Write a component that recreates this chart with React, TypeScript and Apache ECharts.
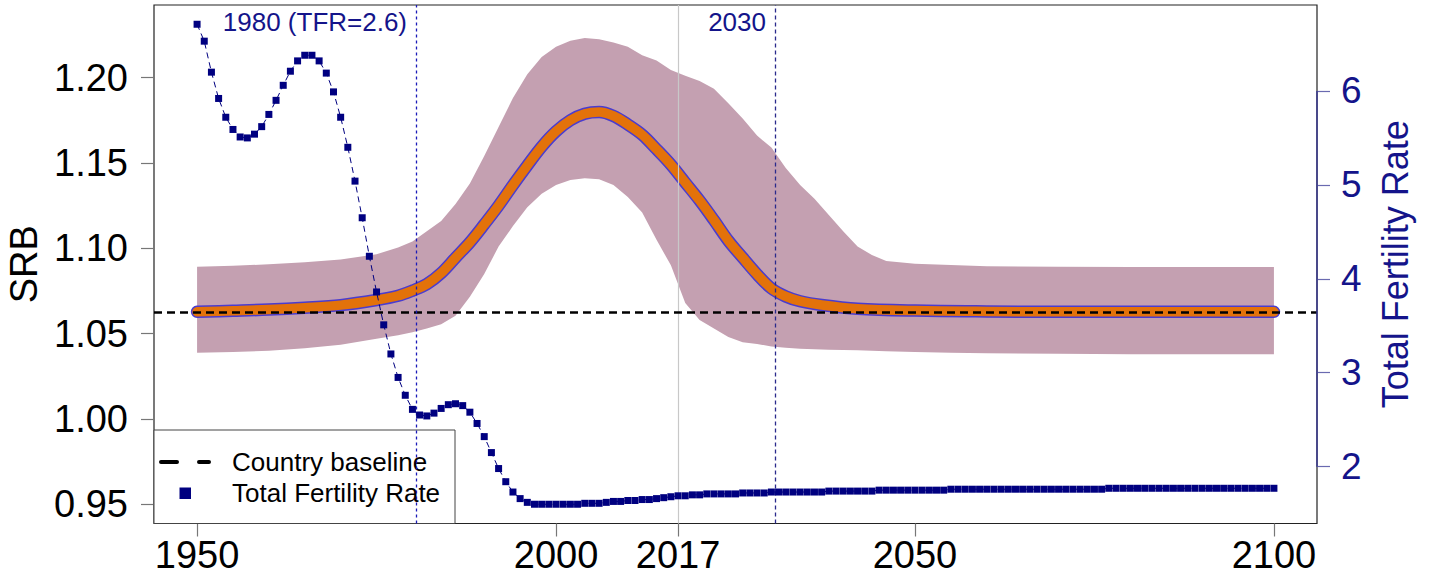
import React, { useEffect, useRef } from "react";
import * as echarts from "echarts";

// ---- Data ----
const tfrStartYear = 1950;
const tfrValues = [
  6.71, 6.53, 6.2, 5.92, 5.72, 5.59, 5.51, 5.5, 5.54, 5.62,
  5.75, 5.9, 6.06, 6.21, 6.32, 6.38, 6.38, 6.32, 6.19, 5.99,
  5.72, 5.4, 5.04, 4.65, 4.24, 3.86, 3.51, 3.2, 2.95, 2.76,
  2.61, 2.55, 2.54, 2.57, 2.62, 2.66, 2.67, 2.65, 2.58, 2.46,
  2.32, 2.15, 1.98, 1.84, 1.73, 1.66, 1.62, 1.6, 1.6, 1.6,
  1.6, 1.6, 1.6, 1.6, 1.61, 1.61, 1.61, 1.62, 1.63, 1.63,
  1.64, 1.64, 1.65, 1.65, 1.66, 1.67, 1.68, 1.69, 1.69, 1.7,
  1.7, 1.71, 1.71, 1.71, 1.71, 1.71, 1.72, 1.72, 1.72, 1.72,
  1.73, 1.73, 1.73, 1.73, 1.73, 1.73, 1.73, 1.73, 1.74, 1.74,
  1.74, 1.74, 1.74, 1.74, 1.74, 1.75, 1.75, 1.75, 1.75, 1.75,
  1.75, 1.75, 1.75, 1.75, 1.75, 1.76, 1.76, 1.76, 1.76, 1.76,
  1.76, 1.76, 1.76, 1.76, 1.76, 1.76, 1.76, 1.76, 1.76, 1.76,
  1.76, 1.76, 1.76, 1.76, 1.76, 1.76, 1.76, 1.77, 1.77, 1.77,
  1.77, 1.77, 1.77, 1.77, 1.77, 1.77, 1.77, 1.77, 1.77, 1.77,
  1.77, 1.77, 1.77, 1.77, 1.77, 1.77, 1.77, 1.77, 1.77, 1.77,
  1.77,
];
const tfrYears = tfrValues.map((_, i) => tfrStartYear + i);

const srbYears = [
  1950, 1955, 1960, 1965, 1970, 1975, 1978, 1980, 1982, 1984, 1986, 1988,
  1990, 1992, 1994, 1996, 1998, 2000, 2002, 2004, 2006, 2008, 2010, 2012,
  2014, 2016, 2018, 2020, 2022, 2024, 2026, 2028, 2030, 2032, 2034, 2037,
  2042, 2050, 2060, 2070, 2080, 2090, 2100,
];
const srbMedian = [
  1.0628, 1.0634, 1.0641, 1.0652, 1.0667, 1.0697, 1.0722, 1.0752, 1.079,
  1.0855, 1.0945, 1.1035, 1.114, 1.125, 1.137, 1.1485, 1.1595, 1.1685, 1.175,
  1.1788, 1.1798, 1.1775, 1.1725, 1.1665, 1.158, 1.149, 1.1385, 1.128, 1.1165,
  1.1045, 1.0945, 1.0848, 1.0765, 1.0718, 1.069, 1.0668, 1.0646, 1.0635,
  1.063, 1.0628, 1.0628, 1.0628, 1.0628,
];

const bandYears = [
  1950, 1955, 1960, 1965, 1970, 1975, 1978, 1980, 1982, 1984, 1986, 1988,
  1990, 1992, 1994, 1996, 1998, 2000, 2002, 2004, 2006, 2008, 2010, 2012,
  2014, 2016, 2018, 2020, 2022, 2024, 2026, 2028, 2030, 2032, 2034, 2036,
  2038, 2040, 2042, 2044, 2046, 2050, 2055, 2060, 2070, 2080, 2090, 2100,
];
const bandLower = [
  1.0388, 1.0392, 1.04, 1.0415, 1.0435, 1.047, 1.049, 1.0508, 1.053, 1.0555,
  1.0605, 1.0716, 1.085, 1.101, 1.113, 1.124, 1.132, 1.137, 1.14, 1.141,
  1.1405, 1.137, 1.13, 1.121, 1.105, 1.09, 1.068, 1.058, 1.053, 1.048, 1.045,
  1.044, 1.0425, 1.0418, 1.0412, 1.0408, 1.0405, 1.0404, 1.0403, 1.04, 1.0397,
  1.0392, 1.0388, 1.0385, 1.0382, 1.038, 1.038, 1.038,
];
const bandUpper = [
  1.0892, 1.0898, 1.0906, 1.0918, 1.0935, 1.0965, 1.1005, 1.104, 1.11, 1.116,
  1.126, 1.138, 1.154, 1.171, 1.188, 1.202, 1.212, 1.218, 1.2215, 1.2232,
  1.2225, 1.2205, 1.218, 1.213, 1.21, 1.2045, 1.201, 1.198, 1.1935, 1.185,
  1.176, 1.166, 1.159, 1.147, 1.137, 1.129, 1.1195, 1.11, 1.101, 1.096,
  1.0925, 1.091, 1.0902, 1.0895, 1.0892, 1.089, 1.089, 1.089,
];

const baselineSRB = 1.0628;
const tfrMarkYear = 1980.5;
const projMarkYear = 2030.5;
const currentYear = 2017;
const tfrMarkLabel = "1980 (TFR=2.6)";
const projMarkLabel = "2030";

const xTicks = [1950, 2000, 2017, 2050, 2100];
const srbTicks = [0.95, 1.0, 1.05, 1.1, 1.15, 1.2];
const tfrTicks = [2, 3, 4, 5, 6];

const legendLabels = ["Country baseline", "Total Fertility Rate"];

export default function App() {
  const ref = useRef<HTMLDivElement>(null);
  useEffect(() => {
    const chart = echarts.init(ref.current!, null, { renderer: "svg" });
    const font = "'Liberation Sans', Arial, Helvetica, sans-serif";
    const navy = "#000080";
    const textNavy = "#14148a";

    const option: any = {
      animation: false,
      backgroundColor: "#ffffff",
      textStyle: { fontFamily: font },
      grid: {
        left: 154,
        right: 113,
        top: 5,
        bottom: 57.5,
        show: true,
        borderColor: "#222",
        borderWidth: 1.2,
        containLabel: false,
        outerBoundsMode: "none",
      },
      xAxis: {
        type: "value",
        min: 1944,
        max: 2106,
        splitLine: { show: false },
        axisLine: { show: false },
        axisTick: {
          show: true,
          customValues: xTicks,
          length: 13,
          lineStyle: { color: "#777", width: 1.2 },
        },
        axisLabel: {
          customValues: xTicks,
          fontSize: 38,
          color: "#000",
          margin: 12,
          fontFamily: font,
          hideOverlap: false,
          formatter: (v: number) => String(v),
        },
      },
      yAxis: [
        {
          type: "value",
          min: 0.9388,
          max: 1.2425,
          name: "SRB",
          nameLocation: "middle",
          nameGap: 110,
          nameRotate: 90,
          nameTextStyle: { fontSize: 38, color: "#000", fontFamily: font },
          splitLine: { show: false },
          axisLine: { show: false },
          axisTick: {
            show: true,
            customValues: srbTicks,
            length: 13,
            lineStyle: { color: "#777", width: 1.2 },
          },
          axisLabel: {
            customValues: srbTicks,
            fontSize: 38,
            color: "#000",
            margin: 26,
            fontFamily: font,
            formatter: (v: number) => v.toFixed(2),
          },
        },
        {
          type: "value",
          position: "right",
          min: 1.395,
          max: 6.915,
          name: "Total Fertility Rate",
          nameLocation: "middle",
          nameGap: 60,
          nameRotate: 90,
          nameTextStyle: { fontSize: 36, color: textNavy, fontFamily: font },
          splitLine: { show: false },
          axisLine: { show: false },
          axisTick: {
            show: true,
            customValues: tfrTicks,
            length: 13,
            lineStyle: { color: "#6a6ab0", width: 1.2 },
          },
          axisLabel: {
            customValues: tfrTicks,
            fontSize: 37,
            color: textNavy,
            margin: 24,
            fontFamily: font,
            formatter: (v: number) => String(v),
          },
        },
      ],
      graphic: {
        elements: [
          {
            type: "rect",
            z: 1,
            shape: { x: 154, y: 430, width: 301, height: 93.5 },
            style: { fill: "#fff", stroke: "#444", lineWidth: 1 },
          },
          {
            type: "line",
            z: 1,
            shape: { x1: 161, y1: 462, x2: 209, y2: 462 },
            style: { stroke: "#000", lineWidth: 4, lineDash: [16, 22], lineCap: "round" },
          },
          {
            type: "rect",
            z: 1,
            shape: { x: 179.5, y: 487.5, width: 11.5, height: 11.5 },
            style: { fill: navy },
          },
          {
            type: "text",
            z: 1,
            x: 232,
            y: 462,
            style: {
              text: legendLabels[0],
              fontSize: 26,
              fontFamily: font,
              fill: "#000",
              verticalAlign: "middle",
              align: "left",
            },
          },
          {
            type: "text",
            z: 1,
            x: 232,
            y: 493,
            style: {
              text: legendLabels[1],
              fontSize: 26,
              fontFamily: font,
              fill: "#000",
              verticalAlign: "middle",
              align: "left",
            },
          },
        ],
      },
      series: [
        {
          type: "custom",
          name: "band",
          z: 1,
          silent: true,
          data: [[bandYears[0], bandLower[0]]],
          encode: { x: 0, y: 1 },
          renderItem: (_params: any, api: any) => {
            const pts: number[][] = [];
            for (let i = 0; i < bandYears.length; i++) pts.push(api.coord([bandYears[i], bandUpper[i]]));
            for (let i = bandYears.length - 1; i >= 0; i--) pts.push(api.coord([bandYears[i], bandLower[i]]));
            return { type: "polygon", shape: { points: pts }, style: { fill: "#c4a0b1" } };
          },
        },
        {
          type: "line",
          name: "current",
          z: 2,
          data: [[currentYear, baselineSRB]],
          showSymbol: false,
          lineStyle: { opacity: 0 },
          silent: true,
          markLine: {
            silent: true,
            precision: 4,
            symbol: ["none", "none"],
            label: { show: false },
            lineStyle: { color: "#c8c8c8", width: 1.2, type: "solid" },
            data: [{ xAxis: currentYear }],
          },
        },
        {
          type: "line",
          name: "medianOutline",
          z: 3,
          data: srbYears.map((y, i) => [y, srbMedian[i]]),
          showSymbol: false,
          smooth: 0.35,
          lineStyle: { color: "#4a3ccf", width: 12.5, cap: "round", join: "round" },
          silent: true,
        },
        {
          type: "line",
          name: "median",
          z: 4,
          data: srbYears.map((y, i) => [y, srbMedian[i]]),
          showSymbol: false,
          smooth: 0.35,
          lineStyle: { color: "#e3720a", width: 9.5, cap: "round", join: "round" },
          silent: true,
          markPoint: {
            silent: true,
            symbol: "circle",
            symbolSize: 0,
            data: [
              {
                coord: [tfrMarkYear, 1.2325],
                label: {
                  show: true,
                  position: "left",
                  distance: 9,
                  formatter: tfrMarkLabel,
                  fontSize: 26,
                  color: textNavy,
                  fontFamily: font,
                },
              },
              {
                coord: [projMarkYear, 1.2325],
                label: {
                  show: true,
                  position: "left",
                  distance: 9,
                  formatter: projMarkLabel,
                  fontSize: 26,
                  color: textNavy,
                  fontFamily: font,
                },
              },
            ],
          },
        },
        {
          type: "line",
          name: "baseline",
          z: 5,
          data: [[1950, baselineSRB]],
          showSymbol: false,
          lineStyle: { opacity: 0 },
          silent: true,
          markLine: {
            silent: true,
            precision: 4,
            symbol: ["none", "none"],
            label: { show: false },
            lineStyle: { color: "#000", width: 2.5, type: [8, 5] },
            data: [{ yAxis: baselineSRB }],
          },
        },
        {
          type: "line",
          name: "TFR",
          yAxisIndex: 1,
          z: 6,
          clip: false,
          data: tfrYears.map((y, i) => [y, tfrValues[i]]),
          symbol: "rect",
          symbolSize: 7,
          showAllSymbol: true,
          itemStyle: { color: navy },
          lineStyle: { color: navy, width: 1, type: [6, 4] },
          silent: true,
          markLine: {
            silent: true,
            precision: 4,
            symbol: ["none", "none"],
            label: { show: false },
            lineStyle: { color: "#3a3a90", width: 1.5, type: "solid" },
            data: [[{ coord: [2106, tfrTicks[0]] }, { coord: [2106, tfrTicks[tfrTicks.length - 1]] }]],
          },
        },
        {
          type: "line",
          name: "marks",
          z: 7,
          data: [[tfrMarkYear, baselineSRB]],
          showSymbol: false,
          lineStyle: { opacity: 0 },
          silent: true,
          markLine: {
            silent: true,
            precision: 4,
            symbol: ["none", "none"],
            label: { show: false },
            data: [
              { xAxis: tfrMarkYear, lineStyle: { color: "#1a1ab8", width: 1.3, type: [3, 3] } },
              { xAxis: projMarkYear, lineStyle: { color: "#2a2a8c", width: 1.3, type: [4, 3] } },
            ],
          },
        },
      ],
    };
    chart.setOption(option);
    return () => chart.dispose();
  }, []);
  return (
    <div
      ref={ref}
      style={{ position: "fixed", left: 0, top: 0, width: 1430, height: 581, background: "#fff" }}
    />
  );
}
